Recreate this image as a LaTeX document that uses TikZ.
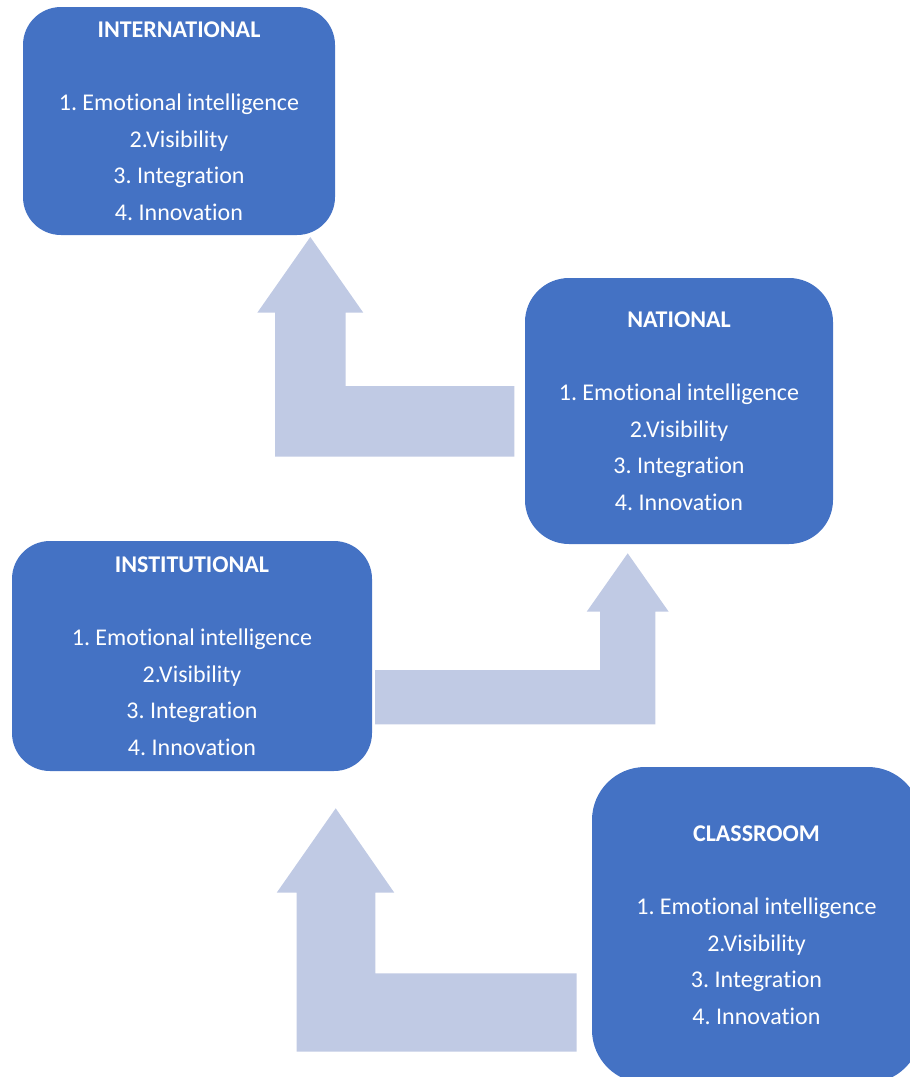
\documentclass[tikz,border=0pt]{standalone}
\usepackage{fontspec}
\setmainfont[Ligatures=NoCommon]{Carlito}
\frenchspacing
\definecolor{boxblue}{RGB}{68,114,196}
\definecolor{arrowfill}{RGB}{192,202,228}
\begin{document}
\begin{tikzpicture}[x=1pt,y=-1pt,
  levelbox/.style={fill=boxblue, draw=none, text=white, align=center,
    font=\fontsize{24}{36.7}\selectfont\frenchspacing, inner sep=0pt},
  bentarrow/.style={fill=arrowfill, draw=none}]
\useasboundingbox (0,0) rectangle (910,1077);
\clip (0,0) rectangle (910,1077);

% bent-up arrows
\fill[bentarrow] (275,456.7) -- (514.3,456.7) -- (514.3,386) -- (345.7,386) -- (345.7,312.7)
  -- (363.3,312.7) -- (310.3,237) -- (257.3,312.7) -- (275,312.7) -- cycle;
\fill[bentarrow] (375,724.3) -- (655.3,724.3) -- (655.3,611.7) -- (668.7,611.7) -- (627.7,553.3)
  -- (586.7,611.7) -- (600,611.7) -- (600,670) -- (375,670) -- cycle;
\fill[bentarrow] (296.7,1051.7) -- (576.7,1051.7) -- (576.7,973.3) -- (375.3,973.3) -- (375.3,892.7)
  -- (394.3,892.7) -- (335.7,808.3) -- (276.7,892.7) -- (296.7,892.7) -- cycle;

% level boxes
\node[levelbox, rounded corners=38pt, minimum width=312pt, minimum height=228pt] (intl) at (179,121)
  {\textbf{INTERNATIONAL}\\[36.7pt]1. Emotional intelligence\\2.Visibility\\3. Integration\\4. Innovation};
\node[levelbox, rounded corners=44pt, minimum width=308pt, minimum height=266pt] (natl) at (679,411)
  {\textbf{NATIONAL}\\[36.7pt]1. Emotional intelligence\\2.Visibility\\3. Integration\\4. Innovation};
\node[levelbox, rounded corners=38pt, minimum width=360pt, minimum height=230pt] (inst) at (192,656)
  {\textbf{INSTITUTIONAL}\\[36.7pt]1. Emotional intelligence\\2.Visibility\\3. Integration\\4. Innovation};
\node[levelbox, rounded corners=53pt, minimum width=329pt, minimum height=316pt] (class) at (756.5,925)
  {\textbf{CLASSROOM}\\[36.7pt]1. Emotional intelligence\\2.Visibility\\3. Integration\\4. Innovation};
\end{tikzpicture}
\end{document}
